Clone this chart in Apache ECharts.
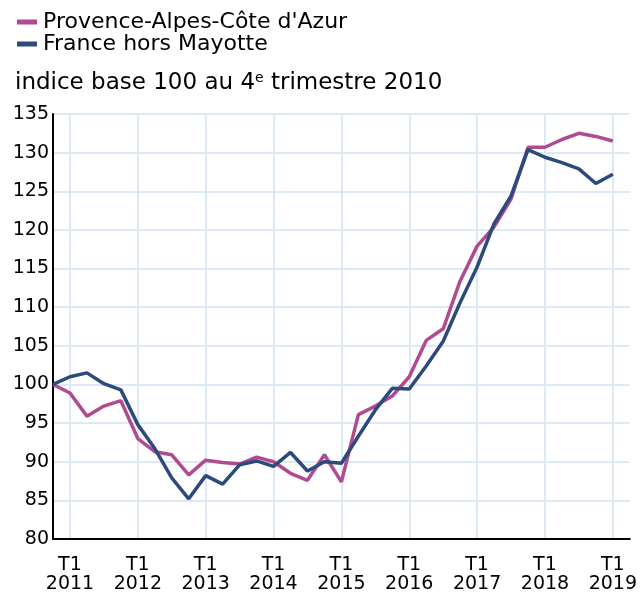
<!DOCTYPE html>
<html>
<head>
<meta charset="utf-8">
<script src="https://cdn.jsdelivr.net/npm/echarts@6/dist/echarts.min.js"></script>
<style>
  html, body { margin: 0; padding: 0; background: #fff; }
  #chart { width: 640px; height: 594px; }
</style>
</head>
<body>
<div id="chart"></div>
<script>
// trimestres : T4 2010 -> T2 2019 (le dernier sans valeur)
const quarters = [];
quarters.push('T4 2010');
for (let y = 2011; y <= 2019; y++) {
    for (let q = 1; q <= 4; q++) {
        if (y === 2019 && q > 2) break;
        quarters.push('T' + q + ' ' + y);
    }
}

// Provence-Alpes-Côte d'Azur
const paca = [
    100, 98.9, 95.9, 97.2, 97.9, 93.0, 91.3, 90.9, 88.3, 90.2,
    89.9, 89.7, 90.6, 90.0, 88.5, 87.6, 90.9, 87.4, 96.1, 97.2,
    98.5, 101.0, 105.7, 107.2, 113.4, 117.9, 120.4, 124.0, 130.7, 130.7,
    131.7, 132.5, 132.1, 131.5, null
];

// France hors Mayotte
const france = [
    100, 101.0, 101.5, 100.1, 99.3, 94.8, 91.7, 87.9, 85.2, 88.2,
    87.1, 89.6, 90.1, 89.4, 91.2, 88.8, 90.0, 89.8, 93.3, 96.7,
    99.5, 99.4, 102.4, 105.6, 110.6, 115.2, 120.8, 124.4, 130.4, 129.4,
    128.7, 127.9, 126.0, 127.2, null
];

const colors = ['#b04b91', '#2c4a7c'];
const gridColor = '#dde9f5';
const font = 'DejaVu Sans, sans-serif';

function isT1(index) {
    return (index - 1) % 4 === 0;
}

const chart = echarts.init(document.getElementById('chart'));
chart.setOption({
    animation: false,
    color: colors,
    textStyle: { fontFamily: font },
    title: {
        text: 'indice base 100 au 4{sup|e} trimestre 2010',
        left: 10,
        top: 66,
        textStyle: {
            fontFamily: font,
            fontSize: 23,
            fontWeight: 'normal',
            color: '#000',
            rich: {
                sup: { fontFamily: font, fontSize: 14, color: '#000', verticalAlign: 'top', padding: [0, 0, 10, 0] }
            }
        }
    },
    legend: {
        orient: 'vertical',
        left: 12,
        top: 6,
        itemGap: 0,
        itemWidth: 20,
        itemHeight: 5,
        icon: 'rect',
        textStyle: { fontFamily: font, fontSize: 22, lineHeight: 22, color: '#000', padding: [0, 0, 0, 1] },
        data: ["Provence-Alpes-Côte d'Azur", 'France hors Mayotte']
    },
    grid: { left: 53, right: 10, top: 114, bottom: 53 },
    xAxis: {
        type: 'category',
        boundaryGap: false,
        data: quarters,
        axisLine: { lineStyle: { color: '#000', width: 2 } },
        axisTick: { show: false },
        axisLabel: {
            interval: (i) => isT1(i),
            margin: 17,
            fontSize: 19,
            lineHeight: 19,
            color: '#000',
            formatter: (v) => v.replace(' ', '\n')
        },
        splitLine: {
            show: true,
            interval: (i) => isT1(i),
            lineStyle: { color: gridColor, width: 2 }
        }
    },
    yAxis: {
        type: 'value',
        min: 80,
        max: 135,
        interval: 5,
        axisLine: { show: true, lineStyle: { color: '#000', width: 2 } },
        axisTick: { show: false },
        axisLabel: { margin: 4, fontSize: 19, color: '#000' },
        splitLine: { lineStyle: { color: gridColor, width: 2 } }
    },
    series: [
        {
            name: "Provence-Alpes-Côte d'Azur",
            type: 'line',
            data: paca,
            symbol: 'none',
            lineStyle: { width: 3.5 },
            z: 3
        },
        {
            name: 'France hors Mayotte',
            type: 'line',
            data: france,
            symbol: 'none',
            lineStyle: { width: 3.5 },
            z: 4
        }
    ]
});
</script>
</body>
</html>
